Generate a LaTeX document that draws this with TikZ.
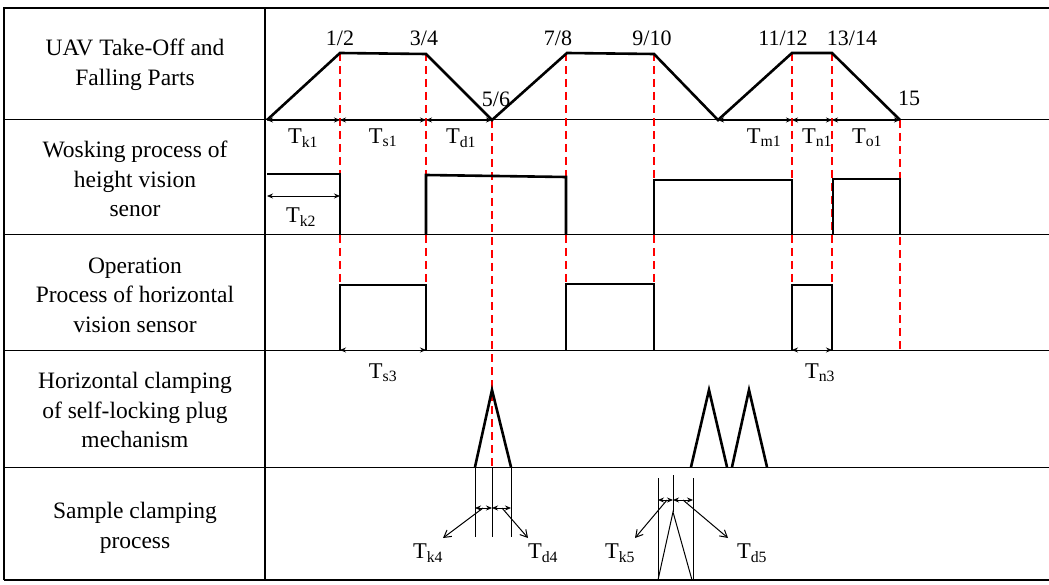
\documentclass[tikz,border=0pt]{standalone}
\usepackage{fontspec}
\setmainfont{Liberation Serif}
\usetikzlibrary{arrows.meta}

\begin{document}
\begin{tikzpicture}[
    x=1pt, y=-1pt,
    rowtitle/.style={align=center, font=\fontsize{23.5}{29.5}\selectfont},
    ticklabel/.style={font=\fontsize{22}{26}\selectfont},
    tlabel/.style={font=\fontsize{22.5}{26}\selectfont},
    wave/.style={line width=2.6pt, line join=miter},
    gridline/.style={line width=1pt},
    thinline/.style={line width=1pt},
    guide/.style={red, line width=1.2pt, dash pattern=on 8pt off 5pt},
    span/.style={{Stealth[length=6pt,width=5pt]}-{Stealth[length=6pt,width=5pt]}, line width=0.8pt},
    pointer/.style={-{Straight Barb[length=7pt,width=8pt]}, line width=1pt}
]
\useasboundingbox (0,0) rectangle (1049,585);

% frame and rows
\draw[line width=1.6pt] (4,580) -- (4,8) -- (1049,8);
\draw[line width=1.6pt] (265,8) -- (265,580);
\draw[line width=2pt] (4,580) -- (1049,580);
\foreach \y in {120,235,350,467}
    \draw[gridline] (4,\y) -- (1049,\y);

\node[rowtitle] (uav) at (135,65) {UAV Take-Off and\\Falling Parts};
\node[rowtitle] (height) at (135,179) {Wosking process of\\height vision\\senor};
\node[rowtitle] (horiz) at (135,295) {Operation\\Process of horizontal\\vision sensor};
\node[rowtitle] (lock) at (135,410) {Horizontal clamping\\of self-locking plug\\mechanism};
\node[rowtitle] (sample) at (135,528) {Sample clamping\\process};

% red guide lines
\foreach \x in {340,426,566,654,792,832}
    \draw[guide] (\x,53) -- (\x,285);
\draw[guide] (492,120) -- (492,467);
\draw[guide] (900,120) -- (900,350);

% flight profile
\draw[wave] (267,120) -- (340,53) -- (426,54) -- (492,120) -- (567,53) -- (654,54)
    -- (718,120) -- (792,53) -- (832,53) -- (900,120);
\node[ticklabel] (p12) at (340,38) {1/2};
\node[ticklabel] (p34) at (424,38) {3/4};
\node[ticklabel] (p56) at (496,99) {5/6};
\node[ticklabel] (p78) at (558,38) {7/8};
\node[ticklabel] (p910) at (652,38) {9/10};
\node[ticklabel] (p1112) at (783,38) {11/12};
\node[ticklabel] (p1314) at (852,38) {13/14};
\node[ticklabel] (p15) at (909,98) {15};

\draw[span] (267,120) -- (340,120);
\draw[span] (340,120) -- (426,120);
\draw[span] (426,120) -- (492,120);
\draw[span] (718,120) -- (792,120);
\draw[span] (792,120) -- (832,120);
\draw[span] (832,120) -- (900,120);
\node[tlabel] (tk1) at (303,138) {T\textsubscript{k1}};
\node[tlabel] (ts1) at (383,138) {T\textsubscript{s1}};
\node[tlabel] (td1) at (461,138) {T\textsubscript{d1}};
\node[tlabel] (tm1) at (764,138) {T\textsubscript{m1}};
\node[tlabel] (tn1) at (817,138) {T\textsubscript{n1}};
\node[tlabel] (to1) at (867,138) {T\textsubscript{o1}};

% height vision sensor
\draw[wave] (267,174) -- (340,174) -- (340,235);
\draw[wave] (426,235) -- (426,175) -- (566,177) -- (566,235);
\draw[wave] (654,235) -- (654,180) -- (792,180) -- (792,235);
\draw[wave] (833,235) -- (833,179) -- (900,179) -- (900,235);
\draw[span] (267,196) -- (340,196);
\node[tlabel] (tk2) at (301,217) {T\textsubscript{k2}};

% horizontal vision sensor
\draw[wave] (340,350) -- (340,285) -- (426,285) -- (426,350);
\draw[wave] (566,350) -- (566,284) -- (654,284) -- (654,350);
\draw[wave] (792,350) -- (792,285) -- (832,285) -- (832,350);
\draw[span] (340,350) -- (426,350);
\draw[span] (792,350) -- (832,350);
\node[tlabel] (ts3) at (383,373) {T\textsubscript{s3}};
\node[tlabel] (tn3) at (820,373) {T\textsubscript{n3}};

% self-locking plug
\draw[wave] (475,467) -- (492,390) -- (511,467);
\draw[wave] (691,467) -- (709,390) -- (727,467);
\draw[wave] (732,467) -- (749,390) -- (767,467);

% sample clamping
\foreach \x in {475,492,511}
    \draw[thinline] (\x,467) -- (\x,537);
\draw[span] (475,508) -- (492,508);
\draw[span] (492,508) -- (511,508);
\node[tlabel] (tk4) at (428,553) {T\textsubscript{k4}};
\node[tlabel] (td4) at (543,553) {T\textsubscript{d4}};
\draw[pointer] (483,508) -- (443,538);
\draw[pointer] (502,508) -- (528,538);

\draw[thinline] (658,478) -- (658,580);
\draw[thinline] (693,478) -- (693,580);
\draw[thinline] (673,475) -- (673,512);
\draw[thinline] (658,580) -- (673,512) -- (692,580);
\draw[span] (658,500) -- (673,500);
\draw[span] (673,500) -- (693,500);
\node[tlabel] (tk5) at (620,553) {T\textsubscript{k5}};
\node[tlabel] (td5) at (752,553) {T\textsubscript{d5}};
\draw[pointer] (667,500) -- (635,538);
\draw[pointer] (683,500) -- (728,538);

\end{tikzpicture}
\end{document}
